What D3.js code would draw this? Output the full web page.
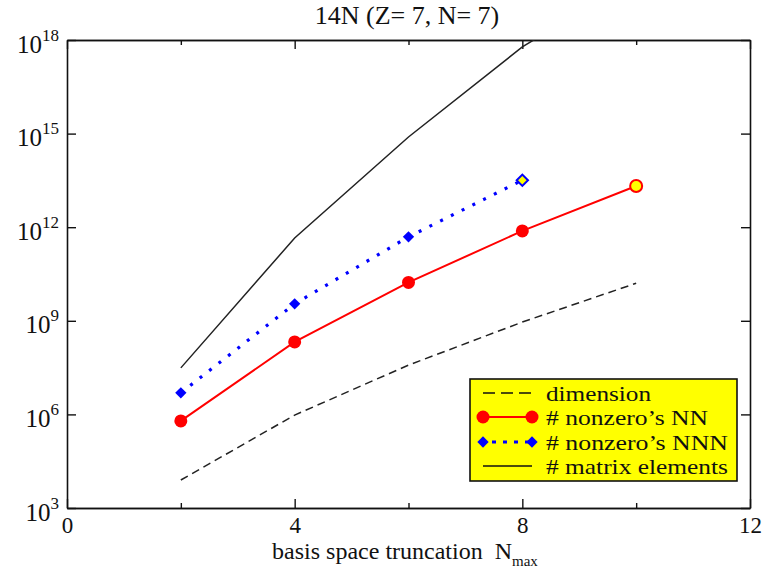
<!DOCTYPE html>
<html><head><meta charset="utf-8">
<script src="https://cdn.jsdelivr.net/npm/d3@7"></script>
<style>
html,body{margin:0;padding:0;background:#fff;}
svg text{font-family:"Liberation Serif","Times New Roman",Times,Tinos,"DejaVu Serif","Noto Serif",serif !important;fill:#111;}
</style></head>
<body><svg id="chart" width="778" height="571"></svg>
<script>
const nmax = [2, 4, 6, 8, 10];
const dimension = [7.9e3, 9.5e5, 3.8e7, 9.1e8, 1.6e10];
const nonzeroNN = [6.2e5, 2.1e8, 1.7e10, 7.6e11, 2.1e13];
const nmaxNNN = [2, 4, 6, 8];
const nonzeroNNN = [4.9e6, 3.5e9, 4.9e11, 3.2e13];
const matrixElements = [3.1e7, 4.5e11, 7.8e14, 6e17, 1e20];
const xMajorTicks = [0, 4, 8, 12];
const xMinorTicks = [2, 6, 10];
const yTickExponents = [3, 6, 9, 12, 15, 18];
const legendLabels = ["dimension", "# nonzero\u2019s NN", "# nonzero\u2019s NNN", "# matrix elements"];
const titleText = "14N (Z= 7, N= 7)";

const L = 67, R = 750, T = 40, B = 508;
const svg = d3.select("#chart");
const x = d3.scaleLinear().domain([0, 12]).range([L, R]);
const y = d3.scaleLog().domain([1e3, 1e18]).range([B, T]);

svg.append("defs").append("clipPath").attr("id", "clip")
  .append("rect").attr("x", L).attr("y", T).attr("width", R - L).attr("height", B - T);

svg.append("text").attr("x", 407).attr("y", 24).attr("text-anchor", "middle")
  .attr("font-size", 26).text(titleText);

function styleAxis(g) {
  g.selectAll("path.domain").attr("stroke", "#111").attr("stroke-width", 1.6);
  g.selectAll(".tick line").attr("stroke", "#111").attr("stroke-width", 1.4);
}
const gxB = svg.append("g").attr("transform", `translate(0,${B})`)
  .call(d3.axisBottom(x).tickValues(xMajorTicks).tickSize(-9).tickSizeOuter(0).tickFormat(d3.format("d")));
gxB.selectAll(".tick text").attr("font-size", 23)
  .attr("fill", "#111").attr("y", 25).attr("dy", 0);
styleAxis(gxB);
const gxBm = svg.append("g").attr("transform", `translate(0,${B})`)
  .call(d3.axisBottom(x).tickValues(xMinorTicks).tickSize(-5).tickSizeOuter(0).tickFormat(""));
styleAxis(gxBm);
const gxT = svg.append("g").attr("transform", `translate(0,${T})`)
  .call(d3.axisTop(x).tickValues(xMajorTicks).tickSize(-9).tickSizeOuter(0).tickFormat(""));
styleAxis(gxT);
const gxTm = svg.append("g").attr("transform", `translate(0,${T})`)
  .call(d3.axisTop(x).tickValues(xMinorTicks).tickSize(-5).tickSizeOuter(0).tickFormat(""));
styleAxis(gxTm);

const yVals = yTickExponents.map(e => Math.pow(10, e));
const gyL = svg.append("g").attr("transform", `translate(${L},0)`)
  .call(d3.axisLeft(y).tickValues(yVals).tickSize(-9).tickSizeOuter(0).tickFormat(""));
styleAxis(gyL);
gyL.selectAll(".tick").each(function(d, i) {
  const t = d3.select(this).select("text")
    .attr("font-size", 25).attr("fill", "#111")
    .attr("text-anchor", "end").attr("x", -8).attr("y", 12).attr("dy", 0);
  t.append("tspan").text("10");
  t.append("tspan").attr("font-size", 17).attr("dy", -12).text(yTickExponents[i]);
});
const gyR = svg.append("g").attr("transform", `translate(${R},0)`)
  .call(d3.axisRight(y).tickValues(yVals).tickSize(-9).tickSizeOuter(0).tickFormat(""));
styleAxis(gyR);

const xt = svg.append("text").attr("x", 405).attr("y", 559).attr("text-anchor", "middle").attr("font-size", 24);
xt.append("tspan").text("basis space truncation\u00a0\u00a0N");
xt.append("tspan").attr("font-size", 15).attr("dy", 7).text("max");

const plot = svg.append("g").attr("clip-path", "url(#clip)");
const line = d3.line().x(d => x(d[0])).y(d => y(d[1]));
const zip = (a, b) => a.map((v, i) => [v, b[i]]);

plot.append("path").datum(zip(nmax, dimension)).attr("d", line)
  .attr("fill", "none").attr("stroke", "#222").attr("stroke-width", 1.5).attr("stroke-dasharray", "8,5");
plot.append("path").datum(zip(nmax, matrixElements)).attr("d", line)
  .attr("fill", "none").attr("stroke", "#222").attr("stroke-width", 1.5);
plot.append("path").datum(zip(nmaxNNN, nonzeroNNN)).attr("d", line)
  .attr("fill", "none").attr("stroke", "#0000ff").attr("stroke-width", 3.2).attr("stroke-dasharray", "3,9");
plot.append("path").datum(zip(nmax, nonzeroNN)).attr("d", line)
  .attr("fill", "none").attr("stroke", "#ff0000").attr("stroke-width", 2);

const nnnPts = zip(nmaxNNN, nonzeroNNN);
svg.append("g").selectAll("path").data(nnnPts).join("path")
  .attr("d", d3.symbol().type(d3.symbolSquare).size(64))
  .attr("transform", d => `translate(${x(d[0])},${y(d[1])}) rotate(45)`)
  .attr("fill", (d, i) => i === nnnPts.length - 1 ? "#ffff00" : "#0000ff")
  .attr("stroke", "#0000ff").attr("stroke-width", (d, i) => i === nnnPts.length - 1 ? 2 : 0);
const nnPts = zip(nmax, nonzeroNN);
svg.append("g").selectAll("circle").data(nnPts).join("circle")
  .attr("cx", d => x(d[0])).attr("cy", d => y(d[1]))
  .attr("r", (d, i) => i === nnPts.length - 1 ? 6 : 6.5)
  .attr("fill", (d, i) => i === nnPts.length - 1 ? "#ffff00" : "#ff0000")
  .attr("stroke", "#ff0000").attr("stroke-width", (d, i) => i === nnPts.length - 1 ? 2 : 0);

const lg = svg.append("g");
lg.append("rect").attr("x", 470).attr("y", 379).attr("width", 267).attr("height", 102)
  .attr("fill", "#ffff00").attr("stroke", "#111").attr("stroke-width", 1.6);
const rowY = [393, 417, 442, 466];
const textY = [401, 425, 450, 474];
const textW = [105, 162, 182, 182];
const lx1 = 483, lx2 = 532;
legendLabels.forEach((lab, i) => {
  const yy = rowY[i];
  const ln = lg.append("line").attr("x1", lx1).attr("x2", lx2).attr("y1", yy).attr("y2", yy);
  if (i === 0) ln.attr("stroke", "#111").attr("stroke-width", 1.5).attr("stroke-dasharray", "12,6");
  if (i === 1) ln.attr("stroke", "#ff0000").attr("stroke-width", 2);
  if (i === 2) ln.attr("stroke", "#0000ff").attr("stroke-width", 3.2).attr("stroke-dasharray", "4,7").attr("x1", lx1 + 9);
  if (i === 3) ln.attr("stroke", "#111").attr("stroke-width", 1.5);
  if (i === 1) {
    [lx1, lx2].forEach(cx => lg.append("circle").attr("cx", cx).attr("cy", yy).attr("r", 6.5).attr("fill", "#ff0000"));
  }
  if (i === 2) {
    [lx1, lx2].forEach(cx => lg.append("path").attr("d", d3.symbol().type(d3.symbolSquare).size(64)())
      .attr("transform", `translate(${cx},${yy}) rotate(45)`).attr("fill", "#0000ff"));
  }
  lg.append("text").attr("x", 546).attr("y", textY[i]).attr("font-size", 22)
    .attr("textLength", textW[i]).attr("lengthAdjust", "spacingAndGlyphs").text(lab);
});
</script></body></html>
